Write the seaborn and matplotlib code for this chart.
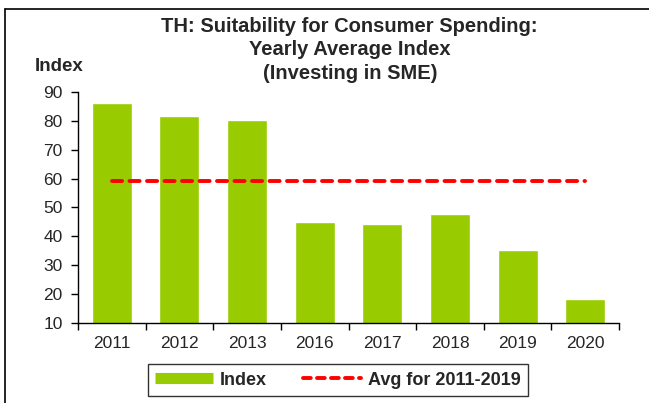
import matplotlib
matplotlib.use('Agg')
import matplotlib.pyplot as plt
from matplotlib.lines import Line2D
import seaborn as sns
import pandas as pd

# data
years = ['2011', '2012', '2013', '2016', '2017', '2018', '2019', '2020']
index_values = [86.0, 81.7, 80.3, 45.1, 44.4, 47.6, 35.1, 18.3]
avg_2011_2019 = 59.1

bar_color = '#99CC00'
line_color = '#FF0000'

sns.set_theme(style='white')
plt.rcParams['font.family'] = ['Liberation Sans', 'DejaVu Sans']

df = pd.DataFrame({'year': years, 'index': index_values})

fig = plt.figure(figsize=(6.49, 4.03), dpi=100)
ax = fig.add_axes([0.120, 0.1985, 0.834, 0.5735])

sns.barplot(data=df, x='year', y='index', color=bar_color, saturation=1,
            width=0.59, ax=ax)

# average line from first to last category centre
ax.plot(range(len(years)), [avg_2011_2019] * len(years), color=line_color,
        lw=2.8, dashes=(2.6, 1.9), dash_capstyle='round')

ax.set_ylim(10, 90)
ax.set_yticks(range(10, 91, 10))
ax.set_xlim(-0.5, len(years) - 0.5)
ax.set_xlabel('')
ax.set_ylabel('')

# x ticks sit on the category boundaries
ax.set_xticks([i - 0.5 for i in range(len(years) + 1)], minor=False)
ax.set_xticklabels([''] * (len(years) + 1))
ax.set_xticks(range(len(years)), minor=True)
ax.set_xticklabels(years, minor=True)
ax.tick_params(axis='x', which='minor', length=0, pad=9, labelsize=12.5)
ax.tick_params(axis='x', which='major', direction='out', length=5, width=1,
               color='black', bottom=True)
ax.tick_params(axis='y', direction='out', length=5, width=1, color='black',
               left=True, labelsize=12.5, pad=6)

for side in ['top', 'right']:
    ax.spines[side].set_visible(False)
for side in ['left', 'bottom']:
    ax.spines[side].set_color('black')
    ax.spines[side].set_linewidth(1)

fig.text(0.539, 0.958, 'TH: Suitability for Consumer Spending:\nYearly Average Index\n(Investing in SME)',
         ha='center', va='top', fontsize=14.5, fontweight='bold', linespacing=1.3)
fig.text(0.054, 0.834, 'Index', ha='left', va='center', fontsize=13.5, fontweight='bold')

handles = [
    Line2D([0], [0], color=bar_color, lw=8, solid_capstyle='butt'),
    Line2D([0], [0], color=line_color, lw=2.8, dashes=(2.0, 1.6), dash_capstyle='round'),
]
leg = fig.legend(handles, ['Index', 'Avg for 2011-2019'], loc='center',
                 bbox_to_anchor=(0.521, 0.057), ncol=2, frameon=True,
                 fancybox=False, edgecolor='black', handlelength=3.2,
                 columnspacing=2.0, borderpad=0.4, handletextpad=0.4,
                 prop={'weight': 'bold', 'size': 13})
leg.get_frame().set_linewidth(1)

# outer frame (left and top edges)
fig.add_artist(Line2D([0.0077, 0.0077], [0.0, 0.978], color='black', lw=1.2,
                      transform=fig.transFigure))
fig.add_artist(Line2D([0.0077, 1.0], [0.978, 0.978], color='black', lw=1.2,
                      transform=fig.transFigure))

fig.savefig('out.png', dpi=100)
plt.close(fig)
